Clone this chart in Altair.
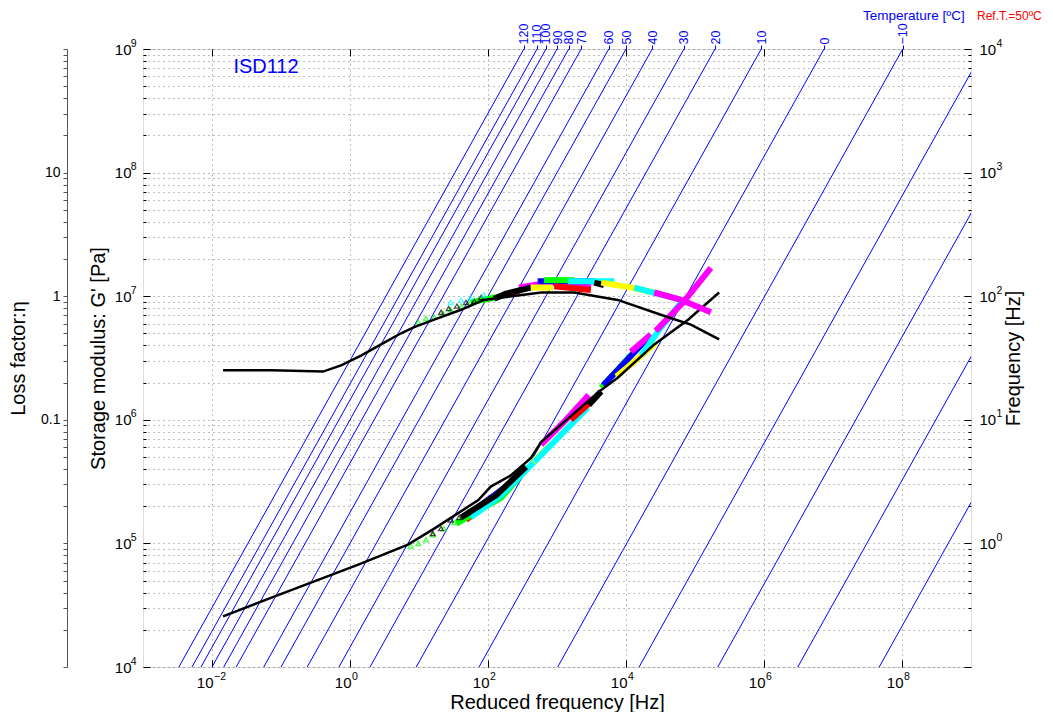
import math
import altair as alt
import pandas as pd

# ---------------- data ----------------
TEMPS = [120, 110, 100, 90, 80, 70, 60, 50, 40, 30, 20, 10, 0, -10, -20, -30, -40, -50]
LOG_AT = [-1.48, -1.29, -1.16, -1.00, -0.83, -0.65, -0.25, 0.00, 0.38, 0.84,
          1.29, 1.96, 2.87, 4.01, 5.19, 6.33, 7.49, 8.67]          # log10 shift factor aT
FREQ_SPAN = [0.1, 1e4]                                             # right-axis frequency span [Hz]

# storage-modulus master curve (log10 reduced freq, log10 G')
GP_MASTER_LF = [-1.84, -1.10, 0.13, 0.84, 1.22, 1.86, 2.04, 2.33, 2.62, 2.77, 3.59, 3.88, 4.41, 4.90, 5.35]
GP_MASTER_LG = [4.41, 4.57, 4.83, 4.99, 5.12, 5.35, 5.46, 5.55, 5.69, 5.82, 6.22, 6.34, 6.61, 6.81, 7.03]

# loss-factor master curve (log10 reduced freq, log10 eta)
ETA_MASTER_LF = [-1.84, -1.14, -0.39, -0.13, 0.16, 0.45, 0.74, 0.93, 1.22, 1.61, 1.94, 2.77, 3.25, 3.88, 4.61, 4.94, 5.35]
ETA_MASTER_LE = [-0.60, -0.60, -0.61, -0.56, -0.48, -0.39, -0.30, -0.25, -0.19, -0.11, -0.03, 0.03, 0.03, -0.03, -0.17, -0.23, -0.35]

# shifted measurement segments: (colour, log10 reduced freq, log10 G')
GP_SEGS = [
    ("red",     [1.68, 2.33], [5.19, 5.46]),
    ("green",   [1.54, 2.19, 2.59], [5.16, 5.37, 5.62]),
    ("blue",    [1.75, 2.48], [5.25, 5.55]),
    ("cyan",    [1.75, 2.19, 2.67], [5.21, 5.39, 5.66]),
    ("black",   [1.61, 2.12, 2.55], [5.21, 5.39, 5.62]),
    ("yellow",  [2.65, 2.91], [5.66, 5.80]),
    ("cyan",    [2.67, 3.06, 3.45], [5.66, 5.88, 6.10]),
    ("magenta", [2.77, 3.13, 3.46], [5.80, 6.00, 6.20]),
    ("red",     [3.20, 3.52], [6.00, 6.16]),
    ("black",   [3.46, 3.64], [6.12, 6.23]),
    ("green",   [3.64, 4.00, 4.36], [6.26, 6.48, 6.69]),
    ("blue",    [3.67, 4.33], [6.28, 6.67]),
    ("yellow",  [3.86, 4.14, 4.43], [6.35, 6.48, 6.62]),
    ("magenta", [4.07, 4.36], [6.55, 6.69]),
    ("cyan",    [4.22, 4.51, 4.80], [6.52, 6.75, 6.95]),
    ("magenta", [4.43, 4.83, 5.23], [6.72, 6.95, 7.23]),
]
# (colour, log10 reduced freq, log10 eta)
ETA_SEGS = [
    ("green",   [1.75, 2.19], [-0.05, 0.00]),
    ("red",     [2.26, 2.48], [0.01, 0.05]),
    ("magenta", [2.45, 2.91, 3.49], [0.07, 0.11, 0.07]),
    ("blue",    [2.72, 3.54], [0.12, 0.12]),
    ("green",   [2.81, 3.25], [0.13, 0.13]),
    ("red",     [2.96, 3.49], [0.08, 0.05]),
    ("black",   [2.09, 2.26, 2.62], [-0.02, 0.02, 0.07]),
    ("yellow",  [2.62, 2.94], [0.07, 0.07]),
    ("cyan",    [3.16, 3.83], [0.12, 0.12]),
    ("black",   [3.54, 3.68], [0.11, 0.09]),
    ("yellow",  [3.64, 4.07, 4.41], [0.11, 0.07, 0.03]),
    ("cyan",    [4.12, 4.80], [0.07, -0.03]),
    ("magenta", [4.41, 4.80, 5.23], [0.03, -0.03, -0.13]),
]
# low-frequency markers (triangles)
GP_TRI = [
    ("green", [0.88, 0.99, 1.10, 1.20, 1.36, 1.51], [4.98, 5.00, 5.03, 5.07, 5.12, 5.17]),
    ("black", [1.20, 1.32, 1.46, 1.58, 1.71], [5.08, 5.12, 5.19, 5.21, 5.25]),
]
ETA_TRI = [
    ("green", [0.99, 1.10, 1.22, 1.35, 1.46, 1.61, 1.75, 1.86], [-0.21, -0.18, -0.17, -0.14, -0.11, -0.08, -0.05, -0.03]),
    ("black", [1.32, 1.43, 1.55, 1.68, 1.80, 1.90], [-0.13, -0.10, -0.08, -0.05, -0.04, -0.01]),
    ("cyan",  [1.46, 1.61, 1.75, 1.94], [-0.05, -0.03, -0.01, 0.01]),
]

X_TICK_EXP = [-2, 0, 2, 4, 6, 8]
G_EXP = [4, 5, 6, 7, 8, 9]
F_EXP = [-1, 0, 1, 2, 3, 4]
E_EXP = [-3, -2, -1, 0, 1, 2]

COL = {"red": "#ff0000", "green": "#00ff00", "blue": "#0000ff", "cyan": "#00ffff",
       "magenta": "#ff00ff", "yellow": "#ffff00", "black": "#000000"}

# ---------------- build tables ----------------
blue_rows = []
for T, la in zip(TEMPS, LOG_AT):
    for f in FREQ_SPAN:
        blue_rows.append(dict(T=T, f=f, fr=f * 10 ** la))
blue_df = pd.DataFrame(blue_rows)


def seg_df(segs, name):
    rows = []
    for k, (c, xs, ys) in enumerate(segs):
        for i, (a, b) in enumerate(zip(xs, ys)):
            rows.append({"seg": k, "i": i, "color": COL[c], "fr": 10 ** a, name: 10 ** b})
    return pd.DataFrame(rows)


gp_seg = seg_df(GP_SEGS, "g")
eta_seg = seg_df(ETA_SEGS, "e")
gp_tri = seg_df(GP_TRI, "g")
eta_tri = seg_df(ETA_TRI, "e")
gp_master = pd.DataFrame({"fr": [10 ** v for v in GP_MASTER_LF], "g": [10 ** v for v in GP_MASTER_LG]})
eta_master = pd.DataFrame({"fr": [10 ** v for v in ETA_MASTER_LF], "e": [10 ** v for v in ETA_MASTER_LE]})

# ---------------- helpers ----------------
LOGV = "log(datum.value)/LN10"


def base_expr(exps, show):
    parts = [f"abs({LOGV}-({e}))<0.01 ? '{'10' if e in show else ''}'" for e in exps]
    return " : ".join(parts) + " : ''"


def exp_expr(exps, show):
    parts = []
    for e in exps:
        s = (("−" + str(-e)) if e < 0 else str(e)) if e in show else ""
        parts.append(f"abs({LOGV}-({e}))<0.01 ? '{s}'")
    return " : ".join(parts) + " : ''"


def all_vals(exps):
    v = [m * 10.0 ** e for e in exps[:-1] for m in range(1, 10)]
    v.append(10.0 ** exps[-1])
    return v


def minor_vals(exps):
    return [m * 10.0 ** e for e in exps[:-1] for m in range(2, 10)]


FONT = "Liberation Sans"
LFS = 15      # tick label size
EFS = 10.5    # exponent size
XS = alt.Scale(type="log", domain=[1e-3, 1e9], nice=False)
YS_G = alt.Scale(type="log", domain=[1e4, 1e9], nice=False)
YS_F = alt.Scale(type="log", domain=[0.1, 1e4], nice=False)
YS_E = alt.Scale(type="log", domain=[1e-3, 1e2], nice=False)

XT = [10.0 ** e for e in X_TICK_EXP]
lab_T = [(10.0 ** (4 + la), ("−" + str(-T)) if T < 0 else str(T))
         for T, la in zip(TEMPS, LOG_AT) if 4 + la <= 9]
temp_expr = " : ".join(
    f"abs({LOGV}-({math.log10(v):.4f}))<0.005 ? '{s}'" for v, s in lab_T) + " : ''"

common_ax = dict(domain=False, labelFont=FONT, titleFont=FONT, labelColor="black", titleColor="black",
                 tickColor="black", labelFlush=False, labelOverlap=False, titleFontWeight="normal")
exp_ax = dict(domain=False, ticks=False, tickSize=0, offset=0, grid=False, title=None, labelFont=FONT,
              labelColor="black", labelFlush=False, labelOverlap=False, labelFontSize=EFS)
GRID = dict(grid=True, ticks=False, labels=False, domain=False, title=None,
            gridColor="#000000", gridOpacity=0.5, gridDash=[1, 4], gridWidth=1)

# grid only
grid_df = pd.DataFrame({"fr": [1.0], "g": [1e6]})
grid = alt.Chart(grid_df).mark_point(opacity=0).encode(
    x=alt.X("fr:Q", scale=XS, axis=alt.Axis(orient="bottom", values=XT, **GRID)),
    y=alt.Y("g:Q", scale=YS_G, axis=alt.Axis(orient="left", values=all_vals(G_EXP), **GRID)),
)

# blue isotherms + bottom axis + right axis (major, mantissa "10")
blue = alt.Chart(blue_df).mark_line(clip=True, color="#0000ff", strokeWidth=1).encode(
    x=alt.X("fr:Q", scale=XS, axis=alt.Axis(
        orient="bottom", values=XT, labelExpr=base_expr(X_TICK_EXP, X_TICK_EXP), labelAlign="right",
        labelOffset=1, title="Reduced frequency [Hz]", grid=False, tickSize=7, offset=-7, labelPadding=8,
        labelFontSize=LFS, titleFontSize=20, titlePadding=2, **common_ax)),
    y=alt.Y("f:Q", scale=YS_F, axis=alt.Axis(
        orient="right", values=[10.0 ** e for e in F_EXP], labelExpr=base_expr(F_EXP, F_EXP[1:]),
        title="Frequency [Hz]", titleAngle=270, titleBaseline="top", grid=False, tickSize=7, offset=-7,
        labelPadding=8, labelFontSize=LFS, titleFontSize=20, titlePadding=8, **common_ax)),
    detail="T:N",
)

# right minor ticks + top mirrored ticks
fgrid_df = pd.DataFrame({"fr": [1.0], "f": [10.0]})
fminor = alt.Chart(fgrid_df).mark_point(opacity=0).encode(
    x=alt.X("fr:Q", scale=XS, axis=alt.Axis(
        orient="top", values=XT, labels=False, tickSize=7, offset=-7, grid=False, title=None, **common_ax)),
    y=alt.Y("f:Q", scale=YS_F, axis=alt.Axis(
        orient="right", values=minor_vals(F_EXP), labels=False, tickSize=3, offset=-3, grid=False,
        title=None, **common_ax)),
)

# right-axis exponents
fexp = alt.Chart(fgrid_df).mark_point(opacity=0).encode(
    x=alt.X("fr:Q", scale=XS, axis=None),
    y=alt.Y("f:Q", scale=YS_F, axis=alt.Axis(
        orient="right", values=[10.0 ** e for e in F_EXP], labelExpr=exp_expr(F_EXP, F_EXP[1:]),
        labelPadding=25, labelAlign="left", labelOffset=-6, **exp_ax)),
)

# G' measurement segments + left major axis
gseg = alt.Chart(gp_seg).mark_line(strokeWidth=6, strokeCap="butt").encode(
    x=alt.X("fr:Q", scale=XS, axis=None),
    y=alt.Y("g:Q", scale=YS_G, axis=alt.Axis(
        orient="left", values=[10.0 ** e for e in G_EXP], labelExpr=base_expr(G_EXP, G_EXP),
        title="Storage modulus: G' [Pa]", grid=False, tickSize=7, offset=-7, labelPadding=12,
        labelFontSize=LFS, titleFontSize=20, titlePadding=6, **common_ax)),
    color=alt.Color("color:N", scale=None),
    detail="seg:N",
    order="i:Q",
)

# G' triangles + left minor ticks + top temperature axis
gtri = alt.Chart(gp_tri).mark_point(shape="triangle-up", filled=False, size=24, strokeWidth=1.3).encode(
    x=alt.X("fr:Q", scale=XS, axis=alt.Axis(
        orient="top", values=[v for v, s in lab_T], labelExpr=temp_expr, tickSize=4, labelPadding=1,
        labelAngle=270, labelAlign="left", labelBaseline="middle", labelFontSize=12.5, grid=False,
        title=None, domain=False, labelFont=FONT, labelColor="#0000ff", tickColor="#0000ff",
        labelFlush=False, labelOverlap=False)),
    y=alt.Y("g:Q", scale=YS_G, axis=alt.Axis(
        orient="left", values=minor_vals(G_EXP), labels=False, tickSize=3, offset=-3, grid=False,
        title=None, **common_ax)),
    color=alt.Color("color:N", scale=None),
)

# G' master curve + exponents of bottom and left axes
gmaster = alt.Chart(gp_master).mark_line(color="black", strokeWidth=2.5).encode(
    x=alt.X("fr:Q", scale=XS, axis=alt.Axis(
        orient="bottom", values=XT, labelExpr=exp_expr(X_TICK_EXP, X_TICK_EXP), labelAlign="left",
        labelOffset=1.5, labelPadding=4, **exp_ax)),
    y=alt.Y("g:Q", scale=YS_G, axis=alt.Axis(
        orient="left", values=[10.0 ** e for e in G_EXP], labelExpr=exp_expr(G_EXP, G_EXP),
        labelAlign="right", labelPadding=7, labelOffset=-6, **exp_ax)),
)

eta_labels = (f"abs({LOGV}-1)<0.01 ? '10' : abs({LOGV})<0.01 ? '1' : "
              f"abs({LOGV}+1)<0.01 ? '0.1' : ''")
emaster = alt.Chart(eta_master).mark_line(color="black", strokeWidth=2.5).encode(
    x=alt.X("fr:Q", scale=XS, axis=None),
    y=alt.Y("e:Q", scale=YS_E, axis=alt.Axis(
        orient="left", offset=76, values=all_vals(E_EXP), labelExpr=eta_labels, tickSize=4,
        labelPadding=3, labelFontSize=14, title="Loss factor:η", titleFontSize=20, titlePadding=12,
        grid=False, domain=True, domainColor="#555555", tickColor="#555555", labelFont=FONT,
        titleFont=FONT, labelColor="black", titleColor="black", labelFlush=False, labelOverlap=False,
        titleFontWeight="normal")),
)

eseg = alt.Chart(eta_seg).mark_line(strokeWidth=6, strokeCap="butt").encode(
    x=alt.X("fr:Q", scale=XS, axis=None),
    y=alt.Y("e:Q", scale=YS_E, axis=None),
    color=alt.Color("color:N", scale=None),
    detail="seg:N",
    order="i:Q",
)

etri = alt.Chart(eta_tri).mark_point(shape="triangle-up", filled=False, size=24, strokeWidth=1.3).encode(
    x=alt.X("fr:Q", scale=XS, axis=None),
    y=alt.Y("e:Q", scale=YS_E, axis=None),
    color=alt.Color("color:N", scale=None),
)


def txt(s, x, y, color, size, align="left", baseline="alphabetic"):
    return alt.Chart(pd.DataFrame({"t": [s]})).mark_text(
        align=align, baseline=baseline, color=color, fontSize=size, font=FONT
    ).encode(x=alt.value(x), y=alt.value(y), text="t:N")


t_isd = txt("ISD112", 123, 18, "#0000ff", 20, align="center", baseline="middle")
t_temp = txt("Temperature [ºC]", 720, -29.5, "#0000ff", 13.5)
t_ref = txt("Ref.T.=50ºC", 834, -29.5, "#ff0000", 12)

chart = alt.layer(
    grid, blue, fminor, fexp, gseg, gtri, gmaster, eseg, etri, emaster, t_isd, t_temp, t_ref
).resolve_scale(x="independent", y="independent").properties(
    width=828, height=618, padding={"left": 0, "top": 0, "right": 2, "bottom": 0}
).configure_view(stroke="black", strokeWidth=1).configure(font=FONT, background="white")

chart.save("out.html", embed_options={"renderer": "svg", "actions": False})
